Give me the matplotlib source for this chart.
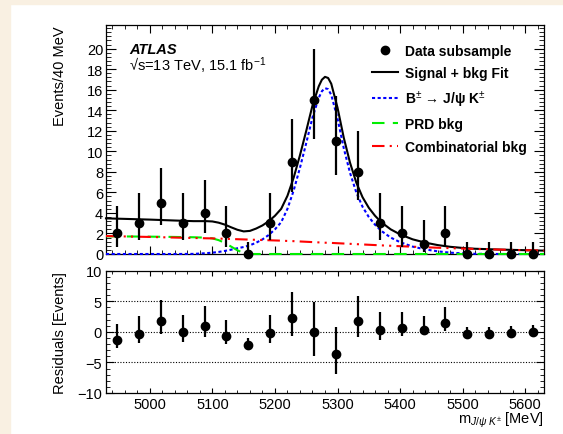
import numpy as np
import matplotlib
matplotlib.use('Agg')
import matplotlib.pyplot as plt
from matplotlib.lines import Line2D
from matplotlib.patches import Rectangle
from matplotlib.ticker import MultipleLocator, FixedLocator

plt.rcParams['font.family'] = ['Liberation Sans', 'DejaVu Sans']
plt.rcParams['mathtext.fontset'] = 'custom'
plt.rcParams['mathtext.rm'] = 'Liberation Sans'
plt.rcParams['mathtext.it'] = 'Liberation Sans:italic'
plt.rcParams['mathtext.bf'] = 'Liberation Sans:bold'

# binned data (35 MeV bins)
bin_centers = [4947.5, 4982.5, 5017.5, 5052.5, 5087.5, 5122.5, 5157.5, 5192.5, 5227.5, 5262.5,
               5297.5, 5332.5, 5367.5, 5402.5, 5437.5, 5472.5, 5507.5, 5542.5, 5577.5, 5612.5]
counts = [2, 3, 5, 3, 4, 2, 0, 3, 9, 15, 11, 8, 3, 2, 1, 2, 0, 0, 0, 0]
err_lo = [1.29, 1.63, 2.16, 1.63, 1.91, 1.29, 0.0, 1.63, 2.94, 3.82,
          3.28, 2.76, 1.63, 1.29, 0.83, 1.29, 0.0, 0.0, 0.0, 0.0]
err_hi = [2.64, 2.92, 3.38, 2.92, 3.16, 2.64, 1.15, 2.92, 4.11, 4.96,
          4.42, 3.94, 2.92, 2.64, 2.30, 2.64, 1.15, 1.15, 1.15, 1.15]
residuals = [-1.36, -0.27, 1.85, -0.1, 1.03, -0.7, -2.1, -0.16, 2.34, -0.1,
             -3.64, 1.85, 0.33, 0.65, 0.33, 1.5, -0.38, -0.33, -0.2, -0.1]

# fit components
mass = [4930, 4960, 5000, 5040, 5070, 5090, 5100, 5110, 5120, 5130, 5140, 5150, 5160, 5170,
        5180, 5190, 5200, 5210, 5220, 5230, 5240, 5250, 5260, 5270, 5275, 5280, 5285, 5290,
        5300, 5310, 5320, 5330, 5340, 5350, 5360, 5370, 5385, 5400, 5420, 5440, 5460, 5480,
        5500, 5520, 5560, 5600, 5630]
signal = [0, 0, 0, 0, 0.01, 0.08, 0.13, 0.2, 0.3, 0.42, 0.56, 0.68, 0.85, 1.1,
          1.42, 1.85, 2.4, 3.1, 4.4, 6.2, 8.4, 10.8, 13.3, 15.2, 15.85, 16.15, 16.05, 15.5,
          13.2, 10.3, 7.9, 6.0, 4.6, 3.6, 2.85, 2.25, 1.6, 1.15, 0.72, 0.45, 0.26, 0.13,
          0.06, 0.02, 0, 0, 0]
prd_bkg = [1.72, 1.71, 1.69, 1.66, 1.63, 1.59, 1.52, 1.35, 1.08, 0.72, 0.36, 0.1, 0, 0,
           0, 0, 0, 0, 0, 0, 0, 0, 0, 0, 0, 0, 0, 0,
           0, 0, 0, 0, 0, 0, 0, 0, 0, 0, 0, 0, 0, 0,
           0, 0, 0, 0, 0]
comb_bkg = [1.75, 1.71, 1.66, 1.6, 1.56, 1.53, 1.52, 1.5, 1.48, 1.46, 1.44, 1.42, 1.4, 1.38,
            1.36, 1.34, 1.32, 1.3, 1.27, 1.25, 1.22, 1.19, 1.16, 1.13, 1.12, 1.1, 1.09, 1.08,
            1.05, 1.02, 0.99, 0.96, 0.93, 0.9, 0.87, 0.84, 0.8, 0.76, 0.71, 0.66, 0.61, 0.57,
            0.53, 0.49, 0.43, 0.37, 0.33]
total_fit = np.array(signal) + np.array(prd_bkg) + np.array(comb_bkg)

fig = plt.figure(figsize=(5.63, 4.35), dpi=100)
fig.patch.set_facecolor('white')
cream = '#f9f0e2'
fig.patches.append(Rectangle((0, 0), 10 / 563, 1, transform=fig.transFigure, color=cream, zorder=-5))
fig.patches.append(Rectangle((0, 1 - 5 / 435), 1, 5 / 435, transform=fig.transFigure, color=cream, zorder=-5))

ax1 = fig.add_axes([106 / 563, 1 - 255 / 435, 438 / 563, 229 / 435])
ax2 = fig.add_axes([106 / 563, 1 - 394 / 435, 438 / 563, 122.3 / 435])

# main panel
ax1.plot(mass, total_fit, color='black', lw=1.5, zorder=3, clip_on=False)
ax1.plot(mass, signal, color='#0000ff', lw=1.5, ls=(0, (1.5, 1.2)), zorder=3, clip_on=False)
ax1.plot(mass, prd_bkg, color='#00ee00', lw=1.5, ls=(0, (6, 4)), zorder=3, clip_on=False)
ax1.plot(mass, comb_bkg, color='#ff0000', lw=1.5, ls=(0, (6, 2.5, 1, 2.5, 1, 2.5)), zorder=3, clip_on=False)
ax1.errorbar(bin_centers, counts, yerr=[err_lo, err_hi], fmt='o', color='black', ms=6,
             elinewidth=1.6, capsize=0, zorder=4, clip_on=False)

ax1.set_xlim(4930, 5630)
ax1.set_ylim(0, 22.3)
ax1.yaxis.set_major_locator(FixedLocator(list(range(0, 21, 2))))
ax1.yaxis.set_minor_locator(MultipleLocator(0.4))
ax1.xaxis.set_major_locator(MultipleLocator(100))
ax1.xaxis.set_minor_locator(MultipleLocator(20))
ax1.tick_params(which='both', direction='in', top=True, right=True, labelsize=10.5, pad=2)
ax1.tick_params(axis='y', which='major', length=7)
ax1.tick_params(axis='y', which='minor', length=3.5)
ax1.tick_params(axis='x', which='major', length=5.5)
ax1.tick_params(axis='x', which='minor', length=2.8)
ax1.tick_params(axis='x', labelbottom=False)
ax1.set_ylabel('Events/40 MeV', fontsize=10.5, loc='top')
ax1.yaxis.set_label_coords(-0.088, 1.0)

ax1.text(0.053, 0.878, 'ATLAS', transform=ax1.transAxes, fontsize=10.5,
         fontweight='bold', fontstyle='italic')
ax1.text(0.053, 0.80, '√s=13 TeV, 15.1 fb$^{-1}$', transform=ax1.transAxes, fontsize=10.5)

handles = [
    Line2D([], [], color='black', marker='o', ms=6, ls='none'),
    Line2D([], [], color='black', lw=1.5),
    Line2D([], [], color='#0000ff', lw=1.5, ls=(0, (1.5, 1.2))),
    Line2D([], [], color='#00ee00', lw=1.5, ls=(0, (6, 4))),
    Line2D([], [], color='#ff0000', lw=1.5, ls=(0, (6, 2.5, 1, 2.5, 1, 2.5))),
]
labels = ['Data subsample', 'Signal + bkg Fit', 'B$^{\\pm}$ → J/ψ K$^{\\pm}$',
          'PRD bkg', 'Combinatorial bkg']
ax1.legend(handles, labels, loc='upper left', bbox_to_anchor=(0.607, 0.917), frameon=False,
           prop={'weight': 'bold', 'size': 10}, handlelength=1.9, handletextpad=0.45,
           labelspacing=0.6, borderpad=0, borderaxespad=0)

# residual panel
ax2.errorbar(bin_centers, residuals, yerr=[err_lo, err_hi], fmt='o', color='black', ms=6,
             elinewidth=1.6, capsize=0, zorder=4)
for yv in (-5, 0, 5):
    ax2.axhline(yv, color='black', lw=0.8, ls=(0, (1, 1.5)), zorder=1)
ax2.set_xlim(4930, 5630)
ax2.set_ylim(-10, 10)
ax2.yaxis.set_major_locator(MultipleLocator(5))
ax2.yaxis.set_minor_locator(MultipleLocator(1))
ax2.xaxis.set_major_locator(MultipleLocator(100))
ax2.xaxis.set_minor_locator(MultipleLocator(20))
ax2.tick_params(which='both', direction='in', top=True, right=True, labelsize=10.5, pad=3)
ax2.tick_params(axis='y', which='major', length=6)
ax2.tick_params(axis='y', which='minor', length=3)
ax2.tick_params(axis='x', which='major', length=3.5)
ax2.tick_params(axis='x', which='minor', length=2)
ax2.set_ylabel('Residuals [Events]', fontsize=10.5)
ax2.yaxis.set_label_coords(-0.088, 0.5)
ax2.set_xlabel('m$_{J/\\psi\\ K^{\\pm}}$ [MeV]', fontsize=10.5, loc='right', labelpad=-1)

for ax in (ax1, ax2):
    for s in ax.spines.values():
        s.set_linewidth(0.9)

fig.savefig('out.png', dpi=100)
